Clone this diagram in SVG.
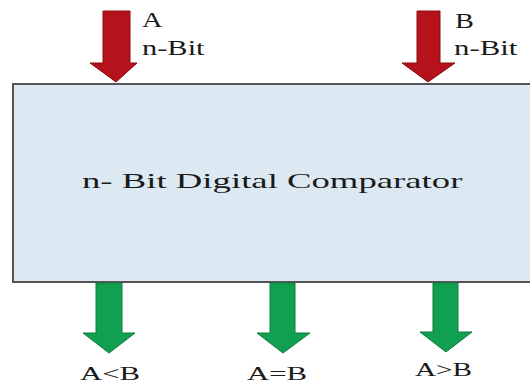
<svg xmlns="http://www.w3.org/2000/svg" width="530" height="385" viewBox="0 0 530 385">
  <style>
    .lbl { font-family: "Liberation Serif", "Times New Roman", serif; fill: #1a1a1a; }
    .in { fill: #B5121B; stroke: #8a0c12; stroke-width: 1; }
    .out { fill: #10A050; stroke: #0b7a3c; stroke-width: 1; }
    .box { fill: #DCE9F3; stroke: #555; stroke-width: 2; }
  </style>
  <rect width="530" height="385" fill="#ffffff"/>

  <!-- comparator block (text widened horizontally) -->
  <g id="comparator">
    <rect class="box" x="13" y="84" width="530" height="198"/>
    <text class="lbl" font-size="22" transform="translate(82,188) scale(1.67,1)">n- Bit Digital Comparator</text>
  </g>

  <!-- inputs -->
  <g id="input-a">
    <text class="lbl" font-size="21" transform="translate(142,27) scale(1.35,1)">A</text>
    <text class="lbl" font-size="21" transform="translate(142,55) scale(1.45,1)">n-Bit</text>
  </g>
  <g id="input-b">
    <text class="lbl" font-size="21" transform="translate(455,28) scale(1.35,1)">B</text>
    <text class="lbl" font-size="21" transform="translate(454,55) scale(1.47,1)">n-Bit</text>
  </g>

  <!-- outputs -->
  <g id="out-lt">
    <text class="lbl" font-size="19" transform="translate(80,380) scale(1.62,1)">A&lt;B</text>
  </g>
  <g id="out-eq">
    <text class="lbl" font-size="19" transform="translate(247,380) scale(1.62,1)">A=B</text>
  </g>
  <g id="out-gt">
    <text class="lbl" font-size="19" transform="translate(415,376) scale(1.54,1)">A&gt;B</text>
  </g>

  <!-- block arrows -->
  <g id="connectors">
    <polygon class="in" points="103,11 130,11 130,63 137,63 116,82 90,63 103,63"/>
    <polygon class="in" points="417,11 440,11 440,63 455,63 428,82 402,63 417,63"/>
    <polygon class="out" points="96,283 122,283 122,333 135,333 109,353 83,333 96,333"/>
    <polygon class="out" points="270,283 295,283 295,333 310,333 283,353 257,333 270,333"/>
    <polygon class="out" points="433,283 458,283 458,332 472,332 446,352 420,332 433,332"/>
  </g>
</svg>
